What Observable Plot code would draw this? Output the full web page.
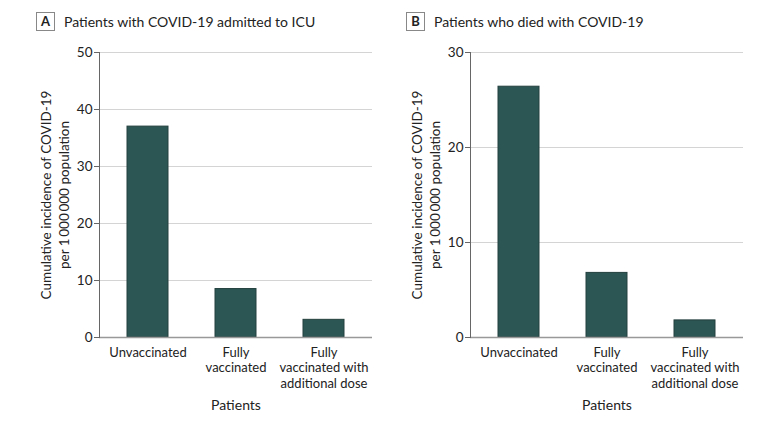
<!DOCTYPE html>
<html>
<head>
<meta charset="utf-8">
<script src="https://cdn.jsdelivr.net/npm/d3@7"></script>
<script src="https://cdn.jsdelivr.net/npm/@observablehq/plot@0.6"></script>
<style>
  body { margin: 0; background: #fff; font-family: Lato, "Noto Sans", sans-serif; color: #222; }
  #wrap { display: flex; width: 780px; height: 425px; }
  .panel { position: relative; width: 390px; height: 425px; }
  .box { position: absolute; top: 12px; width: 17px; height: 17px; border: 1px solid #888;
         font-weight: bold; font-size: 13px; line-height: 17px; text-align: center; color: #222; }
  .ttl { position: absolute; top: 12px; font-size: 14px; line-height: 19px; color: #222; white-space: nowrap; }
  .plot { position: absolute; left: 0; top: 36px; }
</style>
</head>
<body>
<div id="wrap">
  <div class="panel" id="pa">
    <div class="box" style="left:36px">A</div>
    <div class="ttl" style="left:64px">Patients with COVID-19 admitted to ICU</div>
    <div class="plot" id="plotA"></div>
  </div>
  <div class="panel" id="pb">
    <div class="box" style="left:16px">B</div>
    <div class="ttl" style="left:44px">Patients who died with COVID-19</div>
    <div class="plot" id="plotB"></div>
  </div>
</div>
<script>
const categories = ["Unvaccinated", "Fully vaccinated", "Fully vaccinated with additional dose"];
const tickLabels = ["Unvaccinated", "Fully\nvaccinated", "Fully\nvaccinated with\nadditional dose"];
const icuValues = [37.0, 8.5, 3.1];
const deathValues = [26.4, 6.8, 1.8];
const icuTicks = [0, 10, 20, 30, 40, 50];
const deathTicks = [0, 10, 20, 30];
const yLabel = "Cumulative incidence of COVID-19\nper 1\u2009000\u2009000 population";
const xLabel = "Patients";

function chart(values, ticks, marginLeft, marginRight) {
  const data = categories.map((c, i) => ({cat: c, v: values[i]}));
  const labelOf = new Map(categories.map((c, i) => [c, tickLabels[i]]));
  return Plot.plot({
    width: 390,
    height: 389,
    marginTop: 16,
    marginBottom: 88,
    marginLeft,
    marginRight,
    style: {fontFamily: "Lato, 'Noto Sans', sans-serif", fontSize: "13px", color: "#222", background: "transparent"},
    x: {domain: categories, paddingInner: 0.534, paddingOuter: 0.318, axis: null},
    y: {domain: [0, d3.max(ticks)], axis: null},
    marks: [
      Plot.gridY(ticks, {stroke: "#d4d4d4", strokeOpacity: 1}),
      Plot.barY(data, {x: "cat", y: "v", fill: "#2b5653", stroke: "#24403e", strokeWidth: 1}),
      Plot.ruleY([0], {stroke: "#999", strokeWidth: 1.5}),
      Plot.frame({anchor: "left", stroke: "#666"}),
      Plot.axisY({ticks, tickSize: 5, tickPadding: 2, stroke: "#666", fill: "#222", fontSize: 13.5, label: null}),
      Plot.axisX({tickSize: 0, tickPadding: 8, tickFormat: d => labelOf.get(d), lineHeight: 1.2, fill: "#222", fontSize: 13, label: null}),
      Plot.text([xLabel], {frameAnchor: "bottom", dy: 72, fontSize: 14, fill: "#222"}),
      Plot.text([yLabel], {frameAnchor: "left", textAnchor: "middle", lineAnchor: "middle", rotate: -90, dx: -45, lineHeight: 1.3, fontSize: 13.5, fill: "#222"})
    ]
  });
}

document.getElementById("plotA").append(chart(icuValues, icuTicks, 99, 18));
document.getElementById("plotB").append(chart(deathValues, deathTicks, 80, 37));
</script>
</body>
</html>
